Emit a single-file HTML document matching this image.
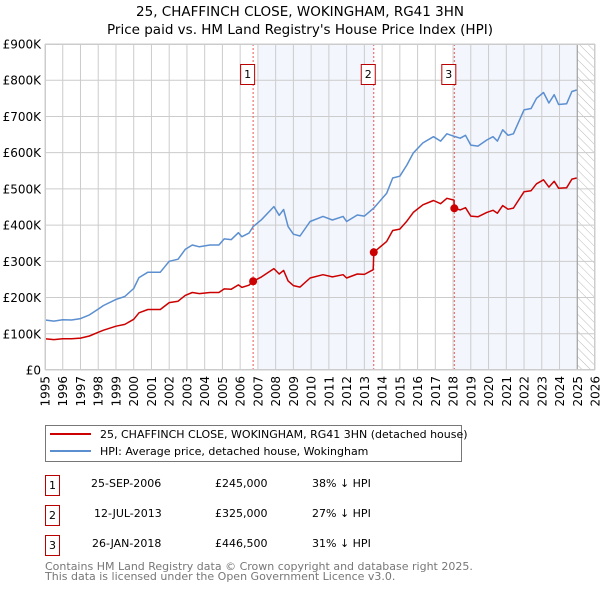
<!DOCTYPE html>
<html><head><meta charset="utf-8"><style>
body{margin:0;background:#fff;width:600px;height:590px;overflow:hidden;font-family:"DejaVu Sans","Liberation Sans",sans-serif}
svg text{font-family:"DejaVu Sans","Liberation Sans",sans-serif}
</style></head><body>
<svg id="c" width="600" height="590" xmlns="http://www.w3.org/2000/svg">
<defs><pattern id="hatch" width="6" height="6" patternUnits="userSpaceOnUse" patternTransform="rotate(-45)"><line x1="0" y1="0" x2="0" y2="6" stroke="#bbb" stroke-width="1"/></pattern></defs>
<text x="300" y="16" text-anchor="middle" font-size="13.5">25, CHAFFINCH CLOSE, WOKINGHAM, RG41 3HN</text>
<text x="300" y="34" text-anchor="middle" font-size="13.5">Price paid vs. HM Land Registry's House Price Index (HPI)</text>
<g id="plot"></g>
<g>
<rect x="45.5" y="425.5" width="416" height="36" fill="#fff" stroke="#777"/>
<line x1="50" y1="434" x2="91" y2="434" stroke="#cc0000" stroke-width="2"/>
<text x="100" y="438" font-size="11">25, CHAFFINCH CLOSE, WOKINGHAM, RG41 3HN (detached house)</text>
<line x1="50" y1="451" x2="91" y2="451" stroke="#5b8fd0" stroke-width="2"/>
<text x="100" y="455" font-size="11">HPI: Average price, detached house, Wokingham</text>
</g>
<g font-size="11">
<rect x="45.5" y="475.5" width="14" height="20" fill="#fff" stroke="#b00"/><text x="52.5" y="489" text-anchor="middle">1</text>
<text x="91" y="487">25-SEP-2006</text><text x="215" y="487">£245,000</text><text x="312" y="487">38% ↓ HPI</text>
<rect x="45.5" y="505.5" width="14" height="20" fill="#fff" stroke="#b00"/><text x="52.5" y="519" text-anchor="middle">2</text>
<text x="94" y="517">12-JUL-2013</text><text x="215" y="517">£325,000</text><text x="312" y="517">27% ↓ HPI</text>
<rect x="45.5" y="535.5" width="14" height="20" fill="#fff" stroke="#b00"/><text x="52.5" y="549" text-anchor="middle">3</text>
<text x="92" y="547">26-JAN-2018</text><text x="215" y="547">£446,500</text><text x="312" y="547">31% ↓ HPI</text>
</g>
<text x="45" y="570" font-size="11" fill="#777">Contains HM Land Registry data © Crown copyright and database right 2025.</text>
<text x="45" y="580" font-size="11" fill="#777">This data is licensed under the Open Government Licence v3.0.</text>
</svg>
<script>
const hpiYears=[1995.0,1995.5,1996.0,1996.5,1997.0,1997.5,1998.0,1998.3,1999.0,1999.5,2000.0,2000.3,2000.8,2001.5,2002.0,2002.5,2002.9,2003.3,2003.7,2004.3,2004.8,2005.1,2005.5,2005.9,2006.1,2006.5,2006.73,2007.2,2007.9,2008.2,2008.45,2008.7,2009.0,2009.37,2009.94,2010.67,2011.2,2011.8,2012.0,2012.6,2013.0,2013.53,2014.26,2014.6,2015.0,2015.4,2015.76,2016.3,2016.9,2017.3,2017.65,2018.07,2018.4,2018.7,2019.0,2019.4,2019.9,2020.25,2020.5,2020.8,2021.1,2021.4,2022.0,2022.4,2022.7,2023.1,2023.4,2023.7,2023.95,2024.4,2024.7,2024.97];
const hpiValues=[138,135,139,138,142,152,168,178,195,203,225,255,270,270,300,306,333,345,340,345,345,362,360,379,368,378,396,415,451,427,443,396,375,370,410,424,414,424,410,428,425,447,488,530,535,566,599,627,644,632,652,645,640,648,621,618,635,644,632,663,648,652,718,722,750,766,737,760,733,735,769,773];
const priceYears=[1995.0,1995.5,1996.0,1996.5,1997.0,1997.5,1998.0,1998.3,1999.0,1999.5,2000.0,2000.3,2000.8,2001.5,2002.0,2002.5,2002.9,2003.3,2003.7,2004.3,2004.8,2005.1,2005.5,2005.9,2006.1,2006.5,2006.73,2007.2,2007.9,2008.2,2008.45,2008.7,2009.0,2009.37,2009.94,2010.67,2011.2,2011.8,2012.0,2012.6,2013.0,2013.5,2013.53,2014.26,2014.6,2015.0,2015.4,2015.76,2016.3,2016.9,2017.3,2017.65,2018.05,2018.07,2018.4,2018.7,2019.0,2019.4,2019.9,2020.25,2020.5,2020.8,2021.1,2021.4,2022.0,2022.4,2022.7,2023.1,2023.4,2023.7,2023.95,2024.4,2024.7,2024.97];
const priceValues=[86,84,86,86,88,94,104,110,121,126,140,158,167,167,186,190,206,214,211,214,214,224,223,235,228,234,245,257,280,265,275,246,233,229,254,263,257,263,254,265,264,277,325,355,385,389,411,435,456,468,459,474,469,446.5,442,448,425,423,435,441,433,454,444,447,492,495,514,525,505,521,502,503,527,530];
const saleLabels=["1","2","3"];
const saleYears=[2006.73,2013.53,2018.07];
const saleValues=[245,325,446.5];
const yTicks=[0,100,200,300,400,500,600,700,800,900];
const yTickLabels=["£0","£100K","£200K","£300K","£400K","£500K","£600K","£700K","£800K","£900K"];
const xTicks=[1995,1996,1997,1998,1999,2000,2001,2002,2003,2004,2005,2006,2007,2008,2009,2010,2011,2012,2013,2014,2015,2016,2017,2018,2019,2020,2021,2022,2023,2024,2025,2026];

const L=45,R=595,T=44,B=370;
const xs=y=>L+(y-1995)/(2026-1995)*(R-L);
const ys=v=>B-v/900*(B-T);
const NS="http://www.w3.org/2000/svg";
const g=document.getElementById('plot');
function mk(tag,attrs,parent){const e=document.createElementNS(NS,tag);for(const k in attrs)e.setAttribute(k,attrs[k]);(parent||g).appendChild(e);return e;}

let r=mk('rect',{x:xs(2007.0),y:T,width:xs(saleYears[1])-xs(2007.0),height:B-T,fill:'#f3f6fd'});


r=mk('rect',{x:xs(saleYears[2]),y:T,width:xs(2025.0)-xs(saleYears[2]),height:B-T,fill:'#f3f6fd'});


r=mk('rect',{x:xs(2025.0),y:T,width:R-xs(2025.0),height:B-T,fill:'url(#hatch)'});



xTicks.forEach(t=>{const x=xs(t);
 const l=mk('line',{x1:x,y1:T,x2:x,y2:B,stroke:'#ccc','stroke-width':1});
 
 
 const tx=mk('text',{x:0,y:0,'font-size':12,'text-anchor':'end',transform:`translate(${x+4.5},${B+6}) rotate(-90)`});
 tx.textContent=t;
 
 
});
yTicks.forEach((t,i)=>{const y=ys(t);
 const l=mk('line',{x1:L,y1:y,x2:R,y2:y,stroke:'#ccc','stroke-width':1});
 
 
 const tx=mk('text',{x:L-4,y:y+4.5,'font-size':12,'text-anchor':'end'});
 tx.textContent=yTickLabels[i];
 
 
});
const vl=mk('line',{x1:xs(2025.0),y1:T,x2:xs(2025.0),y2:B,stroke:'#999','stroke-width':1});



saleYears.forEach((s,i)=>{const x=xs(s);
 const l=mk('line',{x1:x,y1:T,x2:x,y2:B,stroke:'#e55','stroke-width':1,'stroke-dasharray':'2,2'});
 
 
});

function path(xsA,vs,color,name){
 const d=xsA.map((y,i)=>(i?'L':'M')+xs(y).toFixed(1)+','+ys(vs[i]).toFixed(1)).join('');
 const p=mk('path',{d:d,fill:'none',stroke:color,'stroke-width':1.5,'stroke-linejoin':'round'});
 
 
}
path(hpiYears,hpiValues,'#5b8fd0','hpi-line');
path(priceYears,priceValues,'#cc0000','price-paid-line');

saleYears.forEach((s,i)=>{
 const c=mk('circle',{cx:xs(s),cy:ys(saleValues[i]),r:4,fill:'#cc0000'});
 
 
 const bx=xs(s)-13;
 const b=mk('rect',{x:bx+0.5,y:64.5,width:14,height:20,fill:'#fff',stroke:'#b00'});
 
 
 const t=mk('text',{x:bx+7.5,y:78,'font-size':11,'text-anchor':'middle'});
 t.textContent=saleLabels[i];
 
 
});
const fr=mk('rect',{x:L+0.5,y:T+0.5,width:R-L-1,height:B-T-1,fill:'none',stroke:'#ccc'});


</script>
</body></html>
